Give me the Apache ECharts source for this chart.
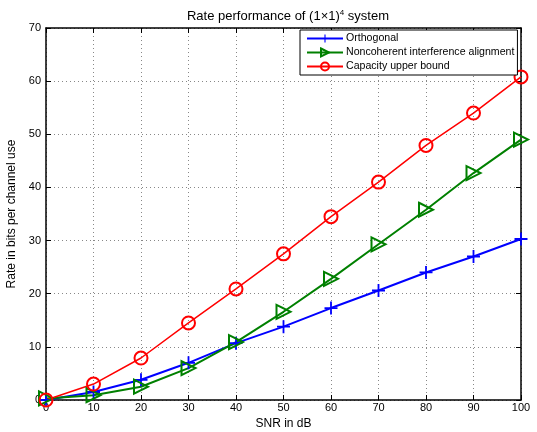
<!DOCTYPE html>
<html>
<head>
<meta charset="utf-8">
<script src="https://cdn.jsdelivr.net/npm/echarts@6/dist/echarts.min.js"></script>
<style>
  html, body { margin: 0; padding: 0; background: #fff; }
  #chart { width: 537px; height: 432px; }
</style>
</head>
<body>
<div id="chart"></div>
<script>
// data
const snrDb = [0, 10, 20, 30, 40, 50, 60, 70, 80, 90, 100];
const orthogonal = [0, 1.5, 3.8, 7.0, 10.7, 13.8, 17.3, 20.6, 24.0, 27.0, 30.3];
const noncoherentIA = [0.3, 0.9, 2.5, 6.0, 10.9, 16.6, 22.8, 29.3, 35.8, 42.7, 49.0];
const capacityBound = [0, 3.0, 7.9, 14.5, 20.9, 27.5, 34.5, 41.0, 47.9, 54.0, 60.8];

const font = 'Liberation Sans, Arial, sans-serif';
const plusPath = 'path://M4.3,0H5.7V4.3H10V5.7H5.7V10H4.3V5.7H0V4.3H4.3Z';
const triPath = 'path://M0,0L10,5L0,10Z';

const chart = echarts.init(document.getElementById('chart'));

const xAxisBase = {
  type: 'value', min: 0, max: 100, interval: 10,
  axisLine: { onZero: false, lineStyle: { color: '#000', width: 1.5 } },
  axisTick: { inside: true, length: 5, lineStyle: { color: '#000' } },
  splitLine: { show: false }
};
const yAxisBase = {
  type: 'value', min: 0, max: 70, interval: 10,
  axisLine: { show: true, onZero: false, lineStyle: { color: '#000', width: 1.5 } },
  axisTick: { show: true, inside: true, length: 5, lineStyle: { color: '#000' } },
  splitLine: { show: false }
};
const gridDots = { show: true, lineStyle: { type: [1, 3], color: '#888', width: 1 } };
const tickFont = { fontSize: 11, color: '#000', fontFamily: font, showMinLabel: true, showMaxLabel: true, hideOverlap: false };

chart.setOption({
  animation: false,
  textStyle: { fontFamily: font },
  title: {
    text: 'Rate performance of (1×1){sup|4} system',
    left: 283, top: 4, textAlign: 'center',
    textStyle: {
      fontSize: 13, fontWeight: 'normal', color: '#000', fontFamily: font,
      rich: { sup: { fontSize: 8, verticalAlign: 'top', padding: [0, 0, 6, 0], fontFamily: font } }
    }
  },
  legend: {
    orient: 'vertical', left: 300, top: 30,
    backgroundColor: '#fff', borderColor: '#000', borderWidth: 1,
    padding: [3, 3, 3, 6], itemGap: 3, itemWidth: 36, itemHeight: 10,
    textStyle: { fontSize: 10.6, color: '#000', fontFamily: font, padding: [0, 0, 0, -2] },
    data: ['Orthogonal', 'Noncoherent interference alignment', 'Capacity upper bound']
  },
  grid: { left: 46, right: 16, top: 28, bottom: 32, containLabel: false, outerBoundsMode: 'none' },
  xAxis: [
    Object.assign({}, xAxisBase, {
      position: 'bottom',
      name: 'SNR in dB', nameLocation: 'middle', nameGap: 8,
      nameTextStyle: { fontSize: 12, color: '#000', fontFamily: font },
      axisLabel: Object.assign({ margin: 2 }, tickFont),
      splitLine: gridDots
    }),
    Object.assign({}, xAxisBase, { position: 'top', axisLabel: { show: false } })
  ],
  yAxis: [
    Object.assign({}, yAxisBase, {
      position: 'left',
      name: 'Rate in bits per channel use', nameLocation: 'middle', nameGap: 20,
      nameTextStyle: { fontSize: 12, color: '#000', fontFamily: font },
      axisLabel: Object.assign({ margin: 5 }, tickFont),
      splitLine: gridDots
    }),
    Object.assign({}, yAxisBase, { position: 'right', axisLabel: { show: false } })
  ],
  series: [
    {
      name: 'Orthogonal', type: 'line',
      data: snrDb.map((x, i) => [x, orthogonal[i]]),
      symbol: plusPath, symbolSize: 13,
      lineStyle: { color: '#0000ff', width: 2 },
      itemStyle: { color: '#0000ff' }
    },
    {
      name: 'Noncoherent interference alignment', type: 'line',
      data: snrDb.map((x, i) => [x, noncoherentIA[i]]),
      symbol: triPath, symbolSize: 14,
      lineStyle: { color: '#008000', width: 2 },
      itemStyle: { color: 'rgba(255,255,255,0)', borderColor: '#008000', borderWidth: 2 }
    },
    {
      name: 'Capacity upper bound', type: 'line',
      data: snrDb.map((x, i) => [x, capacityBound[i]]),
      symbol: 'circle', symbolSize: 13,
      lineStyle: { color: '#ff0000', width: 1.5 },
      itemStyle: { color: 'rgba(255,255,255,0)', borderColor: '#ff0000', borderWidth: 2 }
    }
  ]
});
</script>
</body>
</html>
